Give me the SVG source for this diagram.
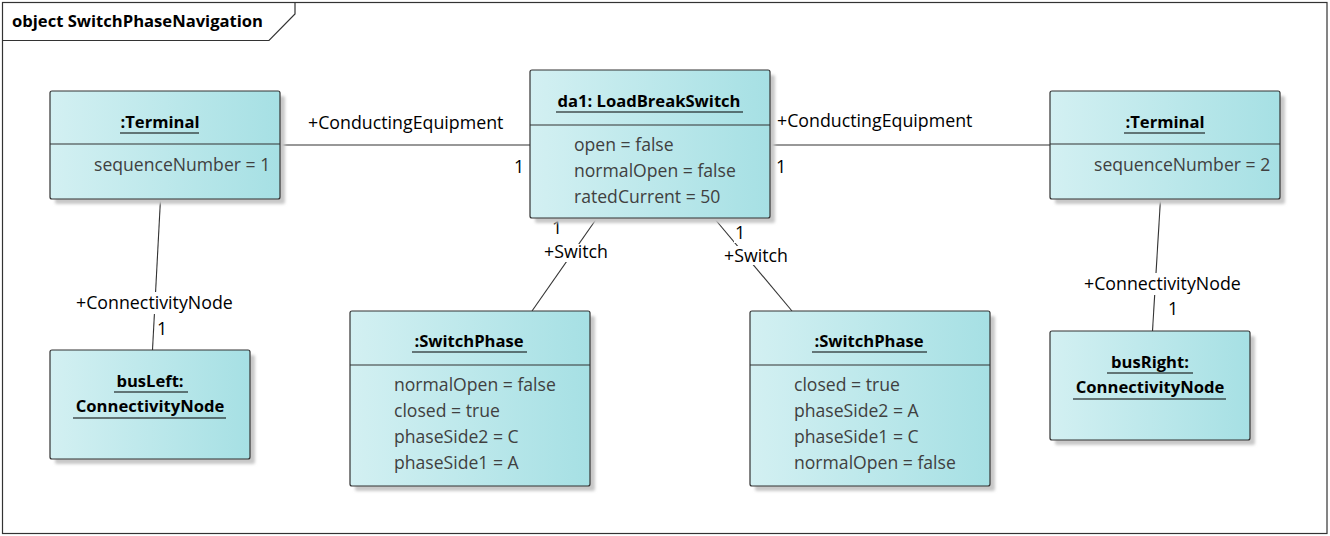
<svg xmlns="http://www.w3.org/2000/svg" width="1330" height="536" viewBox="0 0 1330 536">
<style>
.box{fill:url(#g);stroke:#333;stroke-width:1.2}
.sh{fill:#c8c8c8;filter:url(#blur)}
.div{stroke:#333;stroke-width:1.2}
.ttl{font-family:"Open Sans","Liberation Sans",sans-serif;font-weight:bold;font-size:16.6px;fill:#000;text-anchor:middle}
.ul{stroke:#000;stroke-width:1.2}
.att{font-family:"Open Sans","Liberation Sans",sans-serif;font-size:17.6px;fill:#404040}
.lbl{font-family:"Open Sans","Liberation Sans",sans-serif;font-size:17.8px;fill:#000}
.con{stroke:#333;stroke-width:1.1;fill:none}
.bg{fill:#fff}
</style>
<defs>
<linearGradient id="g" x1="0" y1="0" x2="1" y2="0">
<stop offset="0" stop-color="#d3f0f2"/>
<stop offset="1" stop-color="#a6e0e4"/>
</linearGradient>
<filter id="blur" x="-10%" y="-10%" width="120%" height="120%">
<feGaussianBlur stdDeviation="1.5"/>
</filter>
</defs>
<rect x="0" y="0" width="1330" height="536" fill="#fff"/>
<g id="frame">
<rect x="2.5" y="2.5" width="1324.5" height="531" fill="none" stroke="#333" stroke-width="1.2"/>
<path d="M2.5,40.5 H269 L295,14 V2.5" fill="none" stroke="#333" stroke-width="1.2"/>
<text x="12" y="27" style="font-family:'Open Sans','Liberation Sans',sans-serif;font-weight:bold;font-size:16.6px" fill="#000">object SwitchPhaseNavigation</text>
</g>
<g id="connectors">
<line class="con" x1="280" y1="145" x2="530" y2="145"/>
<line class="con" x1="770" y1="145" x2="1050" y2="145"/>
<line class="con" x1="160.5" y1="199" x2="152.5" y2="350"/>
<line class="con" x1="1160.5" y1="199" x2="1152.5" y2="331"/>
<line class="con" x1="597" y1="218" x2="532" y2="311"/>
<line class="con" x1="714" y1="218" x2="792" y2="311"/>
<text class="lbl" x="308" y="129">+ConductingEquipment</text>
<text class="lbl" x="514" y="173">1</text>
<text class="lbl" x="777" y="127">+ConductingEquipment</text>
<text class="lbl" x="776" y="173">1</text>
<rect class="bg" x="75" y="292" width="162" height="22"/>
<text class="lbl" x="76" y="309">+ConnectivityNode</text>
<rect class="bg" x="156" y="318" width="12" height="20"/>
<text class="lbl" x="157" y="335">1</text>
<rect class="bg" x="1083" y="273" width="162" height="22"/>
<text class="lbl" x="1084" y="290">+ConnectivityNode</text>
<rect class="bg" x="1167" y="299" width="12" height="19"/>
<text class="lbl" x="1168" y="315">1</text>
<rect class="bg" x="542" y="244" width="68" height="18"/>
<text class="lbl" x="544" y="258">+Switch</text>
<rect class="bg" x="551" y="221" width="12" height="17"/>
<text class="lbl" x="552" y="234">1</text>
<rect class="bg" x="722" y="246" width="68" height="19"/>
<text class="lbl" x="724" y="262">+Switch</text>
<rect class="bg" x="734" y="225" width="12" height="18"/>
<text class="lbl" x="735" y="239">1</text>
</g>
<g id="terminal1">
<rect class="sh" x="55" y="96" width="230" height="108" rx="2"/>
<rect class="box" x="50" y="91" width="230" height="108" rx="2"/>
<line class="div" x1="50" y1="144" x2="280" y2="144"/>
<text class="ttl" x="160" y="128">:Terminal</text>
<line class="ul" x1="120" y1="133" x2="199" y2="133"/>
<text class="att" x="94" y="171">sequenceNumber = 1</text>
</g>
<g id="loadBreakSwitch">
<rect class="sh" x="535" y="75" width="240" height="148" rx="2"/>
<rect class="box" x="530" y="70" width="240" height="148" rx="2"/>
<line class="div" x1="530" y1="125" x2="770" y2="125"/>
<text class="ttl" x="649" y="107">da1: LoadBreakSwitch</text>
<line class="ul" x1="556" y1="112" x2="743" y2="112"/>
<text class="att" x="574" y="151">open = false</text>
<text class="att" x="574" y="177">normalOpen = false</text>
<text class="att" x="574" y="203">ratedCurrent = 50</text>
</g>
<g id="terminal2">
<rect class="sh" x="1055" y="96" width="230" height="108" rx="2"/>
<rect class="box" x="1050" y="91" width="230" height="108" rx="2"/>
<line class="div" x1="1050" y1="144" x2="1280" y2="144"/>
<text class="ttl" x="1165" y="128">:Terminal</text>
<line class="ul" x1="1124" y1="133" x2="1205" y2="133"/>
<text class="att" x="1094" y="171">sequenceNumber = 2</text>
</g>
<g id="busLeft">
<rect class="sh" x="55" y="355" width="200" height="109" rx="2"/>
<rect class="box" x="50" y="350" width="200" height="109" rx="2"/>
<text class="ttl" x="150" y="387">busLeft:</text>
<line class="ul" x1="114" y1="392" x2="188" y2="392"/>
<text class="ttl" x="150" y="412">ConnectivityNode</text>
<line class="ul" x1="73" y1="418" x2="226" y2="418"/>
</g>
<g id="switchPhase1">
<rect class="sh" x="355" y="316" width="240" height="175" rx="2"/>
<rect class="box" x="350" y="311" width="240" height="175" rx="2"/>
<line class="div" x1="350" y1="365" x2="590" y2="365"/>
<text class="ttl" x="469" y="347">:SwitchPhase</text>
<line class="ul" x1="412" y1="352" x2="527" y2="352"/>
<text class="att" x="394" y="391">normalOpen = false</text>
<text class="att" x="394" y="417">closed = true</text>
<text class="att" x="394" y="443">phaseSide2 = C</text>
<text class="att" x="394" y="469">phaseSide1 = A</text>
</g>
<g id="switchPhase2">
<rect class="sh" x="755" y="316" width="240" height="175" rx="2"/>
<rect class="box" x="750" y="311" width="240" height="175" rx="2"/>
<line class="div" x1="750" y1="365" x2="990" y2="365"/>
<text class="ttl" x="869" y="347">:SwitchPhase</text>
<line class="ul" x1="812" y1="352" x2="927" y2="352"/>
<text class="att" x="794" y="391">closed = true</text>
<text class="att" x="794" y="417">phaseSide2 = A</text>
<text class="att" x="794" y="443">phaseSide1 = C</text>
<text class="att" x="794" y="469">normalOpen = false</text>
</g>
<g id="busRight">
<rect class="sh" x="1055" y="336" width="200" height="109" rx="2"/>
<rect class="box" x="1050" y="331" width="200" height="109" rx="2"/>
<text class="ttl" x="1150" y="368">busRight:</text>
<line class="ul" x1="1107" y1="373" x2="1193" y2="373"/>
<text class="ttl" x="1150" y="393">ConnectivityNode</text>
<line class="ul" x1="1073" y1="399" x2="1226" y2="399"/>
</g>
</svg>
